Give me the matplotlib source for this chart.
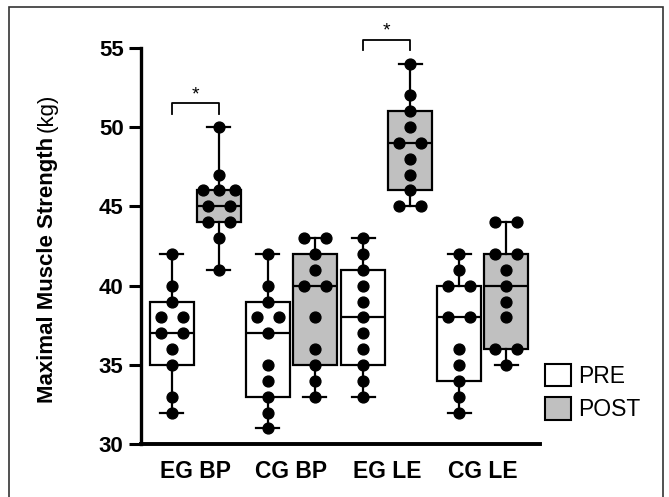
import numpy as np
import matplotlib
matplotlib.use("Agg")
import matplotlib.pyplot as plt
from matplotlib.patches import Patch, Rectangle
from matplotlib.font_manager import FontProperties
from collections import Counter

# ---------------- data ----------------
groups = ["EG BP", "CG BP", "EG LE", "CG LE"]
eg_bp_pre = [32, 33, 35, 36, 37, 37, 38, 38, 39, 40, 42]
eg_bp_post = [41, 43, 44, 44, 45, 45, 46, 46, 46, 47, 50]
cg_bp_pre = [31, 32, 33, 34, 35, 37, 38, 38, 39, 40, 42]
cg_bp_post = [33, 34, 35, 36, 38, 40, 40, 41, 42, 43, 43]
eg_le_pre = [33, 34, 35, 36, 37, 38, 39, 40, 41, 42, 43]
eg_le_post = [45, 45, 46, 47, 48, 49, 49, 50, 51, 52, 54]
cg_le_pre = [32, 33, 34, 35, 36, 38, 38, 40, 40, 41, 42]
cg_le_post = [35, 36, 36, 38, 39, 40, 41, 42, 42, 44, 44]
pre_data = [eg_bp_pre, cg_bp_pre, eg_le_pre, cg_le_pre]
post_data = [eg_bp_post, cg_bp_post, eg_le_post, cg_le_post]
yticks = [30, 35, 40, 45, 50, 55]
legend_labels = ["PRE", "POST"]
sig_groups = [0, 2]  # groups with significance bracket

# ---------------- style ----------------
W, H = 669, 497
ARIAL = ["Liberation Sans", "DejaVu Sans"]
pre_color = "white"
post_color = "#c0c0c0"

fig = plt.figure(figsize=(W / 100, H / 100), dpi=100)
ax = fig.add_axes([141 / W, 1 - 444.3 / H, (540 - 141) / W, (444.3 - 47.7) / H])

d = 0.245
box_w = 0.46
cap_w = 0.24


def stats_for(vals):
    v = np.asarray(vals, float)
    return dict(med=np.median(v),
                q1=np.percentile(v, 25, method="weibull"),
                q3=np.percentile(v, 75, method="weibull"),
                whislo=v.min(), whishi=v.max(), fliers=[])


def swarm_x(vals, center):
    cnt = Counter(vals)
    seen = Counter()
    xs = []
    offs = {1: [0.0], 2: [-0.115, 0.115], 3: [-0.167, 0.0, 0.167]}
    for v in vals:
        o = offs[cnt[v]][seen[v]]
        seen[v] += 1
        xs.append(center + o)
    return xs


lw = 1.6
for data, sign, color in [(pre_data, -1, pre_color), (post_data, 1, post_color)]:
    pos = [g + sign * d for g in range(len(groups))]
    ax.bxp([stats_for(v) for v in data], positions=pos, widths=box_w,
           capwidths=cap_w, patch_artist=True, showfliers=False,
           boxprops=dict(facecolor=color, edgecolor="black", linewidth=lw),
           whiskerprops=dict(color="black", linewidth=lw),
           capprops=dict(color="black", linewidth=lw),
           medianprops=dict(color="black", linewidth=lw), manage_ticks=False)
    for v, p in zip(data, pos):
        ax.plot(swarm_x(v, p), v, "o", color="black", markersize=7.8,
                zorder=4, clip_on=False)

# significance brackets
for g in sig_groups:
    top = max(max(pre_data[g]), max(post_data[g]))
    y1 = top + 1.5
    y0 = y1 - 0.65
    x1, x2 = g - d, g + d
    ax.plot([x1, x1, x2, x2], [y0, y1, y1, y0], color="black", lw=1.3,
            clip_on=False)
    ax.text((x1 + x2) / 2, y1 + 0.55, "*", ha="center", va="center",
            fontsize=14, family=ARIAL, clip_on=False)

ax.set_xlim(-0.568, 3.6)
ax.set_ylim(30, 55)
for s in ["top", "right"]:
    ax.spines[s].set_visible(False)
ax.spines["left"].set_linewidth(2.4)
ax.spines["bottom"].set_linewidth(2.8)
ax.set_yticks(yticks)
ax.set_yticklabels([str(t) for t in yticks],
                   fontproperties=FontProperties(family=ARIAL, weight="bold", size=16))
ax.tick_params(axis="y", length=8.5, width=2.2, pad=4)
ax.set_xticks(range(len(groups)))
ax.set_xticklabels(groups,
                   fontproperties=FontProperties(family=ARIAL, weight="bold", size=16.5))
ax.tick_params(axis="x", length=0, pad=11)
ax.set_facecolor("none")

# y label: bold part + regular unit
xl = 53 / W
t1 = fig.text(xl, 1 - 403 / H, "Maximal Muscle Strength", rotation=90,
              rotation_mode="anchor", ha="left", va="baseline",
              fontsize=16, fontweight="bold", family=ARIAL)
fig.canvas.draw()
bb = t1.get_window_extent()
fig.text(xl, (bb.y1 + 5) / H, "(kg)", rotation=90, rotation_mode="anchor",
         ha="left", va="baseline", fontsize=16, family=ARIAL)

# legend
handles = [Patch(facecolor=pre_color, edgecolor="black", linewidth=1.5),
           Patch(facecolor=post_color, edgecolor="black", linewidth=1.5)]
fig.legend(handles, legend_labels, loc="upper left",
           bbox_to_anchor=(545 / W, 1 - 364 / H), frameon=False,
           prop=FontProperties(family=ARIAL, size=16.5),
           handlelength=1.13, handleheight=1.13, handletextpad=0.3,
           labelspacing=0.4, borderpad=0, borderaxespad=0)

# outer frame
fig.patches.append(Rectangle((9 / W, -0.05), (663 - 9) / W, 1.05 - 7 / H,
                             transform=fig.transFigure, fill=False,
                             edgecolor="#333333", linewidth=1.2))

fig.savefig("out.png", dpi=100)
